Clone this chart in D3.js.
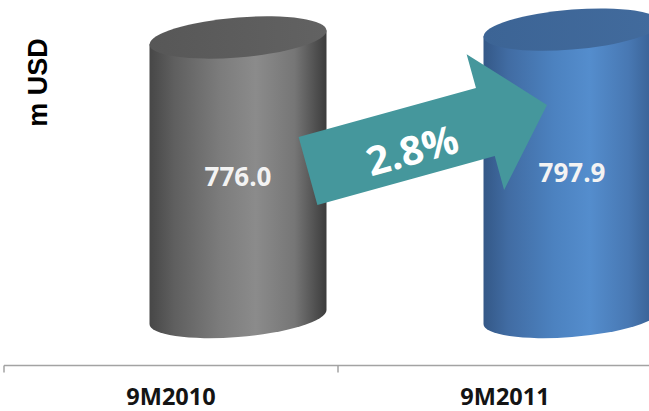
<!DOCTYPE html>
<html>
<head>
<meta charset="utf-8">
<script src="https://cdn.jsdelivr.net/npm/d3@7"></script>
<style>
  body { margin: 0; background: #fff; }
  svg { display: block; }
  .cat-label { font-family: "Open Sans", sans-serif; font-weight: 700; font-size: 23.5px; fill: #141414; }
  .val-label { font-family: "Open Sans", sans-serif; font-weight: 700; font-size: 26px; fill: #f3f3f3; }
  .growth-label { font-family: "Open Sans", sans-serif; font-weight: 700; font-size: 40px; fill: #fff; }
  .y-title { font-family: "Liberation Sans", Arial, sans-serif; font-weight: 700; font-size: 27px; fill: #000; }
</style>
</head>
<body>
<svg id="chart"></svg>
<script>
// Data
const categories = ["9M2010", "9M2011"];
const values = [776.0, 797.9];
const valueLabels = ["776.0", "797.9"];
const growthLabel = "2.8%";
const yTitle = "m USD";

class CylinderChart {
  constructor(_config) {
    this.config = {
      parentElement: _config.parentElement,
      containerWidth: _config.containerWidth || 649,
      containerHeight: _config.containerHeight || 411,
    };
    this.initVis();
  }

  initVis() {
    let vis = this;
    vis.width = vis.config.containerWidth;
    vis.height = vis.config.containerHeight;

    // value baseline sits at the centre of the cylinders' bottom ellipses
    vis.baseY = 317;
    vis.axisY = 365.5;

    vis.xScale = d3.scaleBand().domain(categories).range([4, 672]).padding(0);
    vis.yScale = d3.scaleLinear().domain([0, 880]).range([vis.baseY, 0]);

    vis.svg = d3.select(vis.config.parentElement)
      .attr("width", vis.width)
      .attr("height", vis.height);

    vis.defs = vis.svg.append("defs");

    // body + top gradients for each cylinder
    const palettes = [
      { body: ["#474747", "#5f5f5f", "#7c7c7c", "#8b8b8b", "#767676", "#3c3c3c"], top: ["#575757", "#626262"] },
      { body: ["#345887", "#416ca3", "#4c82c0", "#548dcd", "#4878b3", "#345a8b"], top: ["#3c6495", "#426b9d"] }
    ];
    const offsets = [0, 0.14, 0.4, 0.6, 0.82, 1];
    palettes.forEach((p, i) => {
      const g = vis.defs.append("linearGradient").attr("id", `body${i}`)
        .attr("x1", 0).attr("x2", 1).attr("y1", 0).attr("y2", 0);
      p.body.forEach((c, j) => g.append("stop").attr("offset", offsets[j]).attr("stop-color", c));
      const t = vis.defs.append("linearGradient").attr("id", `top${i}`)
        .attr("x1", 0).attr("x2", 1).attr("y1", 0).attr("y2", 0);
      t.append("stop").attr("offset", 0).attr("stop-color", p.top[0]);
      t.append("stop").attr("offset", 1).attr("stop-color", p.top[1]);
    });

    vis.chart = vis.svg.append("g");
    vis.axisG = vis.svg.append("g").attr("transform", `translate(0,${vis.axisY})`);

    vis.updateVis();
  }

  updateVis() {
    let vis = this;
    vis.rx = 88.5;
    vis.ry = 20;
    vis.skew = -4.5;
    vis.offsetX = 67; // cylinders sit right of the category centre (3D perspective)
    vis.cx = (c) => vis.xScale(c) + vis.xScale.bandwidth() / 2 + vis.offsetX;
    vis.renderVis();
  }

  renderVis() {
    let vis = this;
    const rx = vis.rx, ry = vis.ry;

    const cyl = vis.chart.selectAll(".cyl")
      .data(categories.map((c, i) => ({ cat: c, value: values[i], label: valueLabels[i], i })))
      .join("g")
      .attr("class", "cyl")
      .attr("transform", (d) => `translate(${vis.cx(d.cat)},0) skewY(${vis.skew})`);

    cyl.append("path")
      .attr("fill", (d) => `url(#body${d.i})`)
      .attr("d", (d) => {
        const yt = vis.yScale(d.value), yb = vis.yScale(0);
        return `M${-rx},${yt} L${-rx},${yb} A${rx},${ry} 0 0 0 ${rx},${yb} L${rx},${yt} Z`;
      });

    cyl.append("ellipse")
      .attr("cx", 0)
      .attr("cy", (d) => vis.yScale(d.value))
      .attr("rx", rx)
      .attr("ry", ry)
      .attr("fill", (d) => `url(#top${d.i})`);

    // value labels
    vis.chart.selectAll(".val-label")
      .data(categories.map((c, i) => ({ cat: c, value: values[i], label: valueLabels[i] })))
      .join("text")
      .attr("class", "val-label")
      .attr("text-anchor", "middle")
      .attr("x", (d) => vis.cx(d.cat))
      .attr("y", (d) => vis.yScale(d.value / 2) + 9)
      .text((d) => d.label);

    // growth arrow from first cylinder towards second
    const x0 = vis.cx(categories[0]) + 70, y0 = 171;
    const x1 = vis.cx(categories[1]) - 25, y1 = 105;
    const len = Math.hypot(x1 - x0, y1 - y0);
    const ang = Math.atan2(y1 - y0, x1 - x0) * 180 / Math.PI;
    const shaftW = 35.3, headW = 70.4, headLen = len - 184;
    const arrow = vis.chart.append("g")
      .attr("transform", `translate(${x0},${y0}) rotate(${ang})`);
    arrow.append("path")
      .attr("fill", "#45979c")
      .attr("d", `M0,${-shaftW} L${len - headLen},${-shaftW} L${len - headLen},${-headW} L${len},0 L${len - headLen},${headW} L${len - headLen},${shaftW} L0,${shaftW} Z`);
    arrow.append("text")
      .attr("class", "growth-label")
      .attr("text-anchor", "middle")
      .attr("x", 106)
      .attr("y", 22)
      .text(growthLabel);

    // y-axis title
    vis.svg.append("text")
      .attr("class", "y-title")
      .attr("text-anchor", "middle")
      .attr("transform", `translate(47,82.5) rotate(-90)`)
      .text(yTitle);

    // x axis: labels at band centres, ticks at band edges
    const xAxis = d3.axisBottom(vis.xScale).tickSize(0).tickPadding(0);
    vis.axisG.call(xAxis);
    vis.axisG.select(".domain").remove();
    vis.axisG.selectAll(".tick text")
      .attr("class", "cat-label")
      .attr("y", 39)
      .attr("dy", 0);

    vis.axisG.append("line")
      .attr("x1", vis.xScale.range()[0])
      .attr("x2", vis.width)
      .attr("stroke", "#a3a3a3")
      .attr("stroke-width", 1.5);
    vis.axisG.selectAll(".edge-tick")
      .data(categories)
      .join("line")
      .attr("class", "edge-tick")
      .attr("x1", (d) => vis.xScale(d))
      .attr("x2", (d) => vis.xScale(d))
      .attr("y1", 0)
      .attr("y2", 7)
      .attr("stroke", "#a3a3a3")
      .attr("stroke-width", 1.5);
  }
}

new CylinderChart({ parentElement: "#chart" });
</script>
</body>
</html>
